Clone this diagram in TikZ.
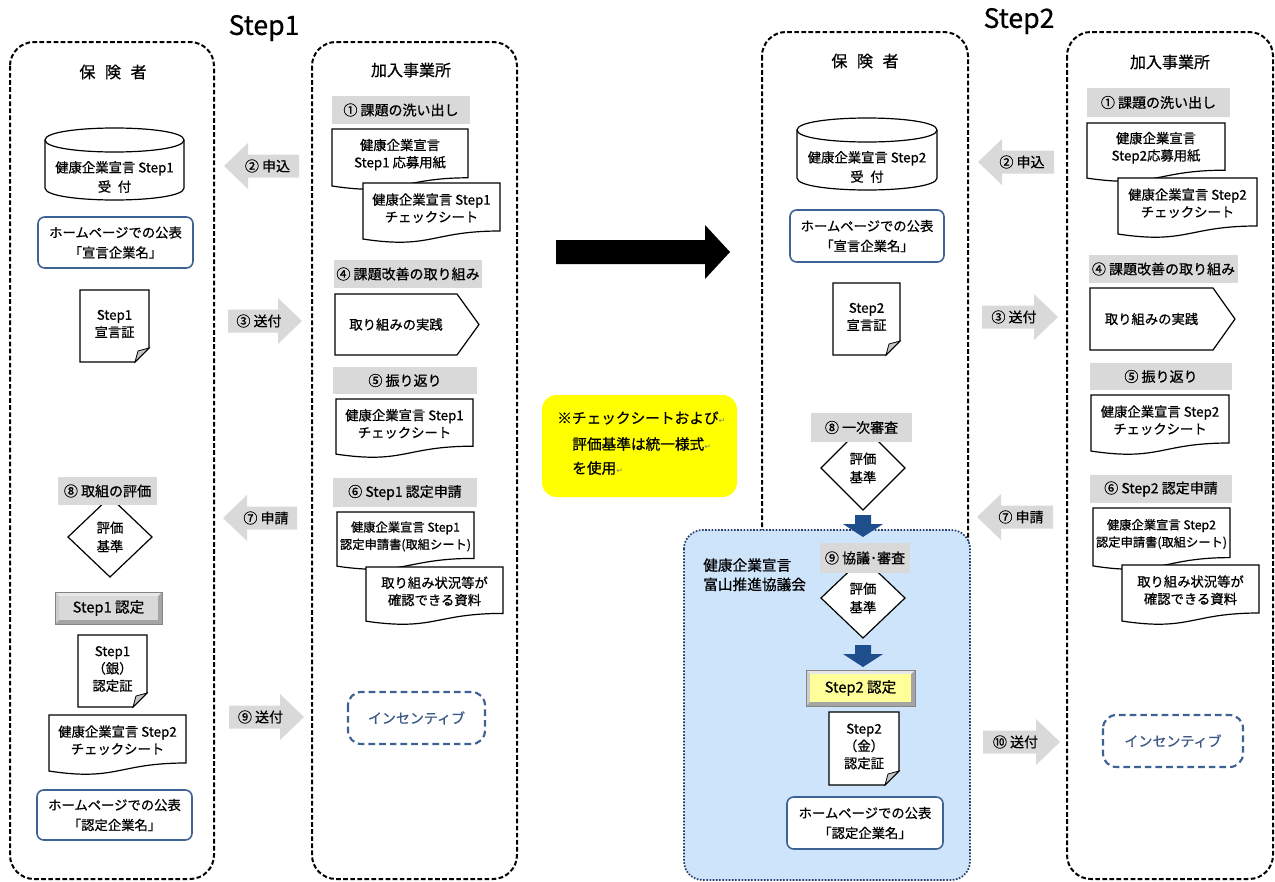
\documentclass[tikz,border=0pt]{standalone}
\usepackage{fontspec}
\setmainfont{Noto Sans CJK JP}[FakeBold=0.7]
\newfontfamily\dejavu{DejaVu Sans}
\definecolor{lgray}{RGB}{217,217,217}
\definecolor{hpblue}{RGB}{62,98,148}
\definecolor{inctext}{RGB}{60,90,135}
\definecolor{arrowblue}{RGB}{31,78,140}
\definecolor{councilfill}{RGB}{206,228,251}
\definecolor{councildraw}{RGB}{35,60,105}
\definecolor{yel}{RGB}{255,255,0}
\definecolor{yel2}{RGB}{255,255,153}
\definecolor{bevdark}{RGB}{165,165,165}
\definecolor{bevlight}{RGB}{232,232,232}
\tikzset{
  lane/.style={draw=black, line width=1.5pt, dash pattern=on 3.5pt off 1.8pt, rounded corners=18pt},
  docline/.style={draw=black, line width=0.9pt},
  txt/.style={align=center, inner sep=0pt, font=\fontsize{10}{13}\selectfont},
  hptxt/.style={align=center, inner sep=0pt, font=\fontsize{10}{15}\selectfont},
  lbltxt/.style={align=center, inner sep=0pt, font=\fontsize{10.5}{13}\selectfont},
  hpbox/.style={draw=hpblue, line width=1.2pt, rounded corners=5pt, fill=white},
  incbox/.style={draw=hpblue, line width=1.6pt, dash pattern=on 5pt off 3pt, rounded corners=10pt},
  councilbox/.style={draw=councildraw, fill=councilfill, line width=1.3pt, dash pattern=on 1.2pt off 1.2pt, rounded corners=14pt},
  titletxt/.style={inner sep=0pt, font=\fontsize{20}{24}\selectfont},
  lanetxt/.style={inner sep=0pt, font=\fontsize{12}{14}\selectfont},
  ytxt/.style={anchor=west, inner sep=0pt, font=\fontsize{11}{13}\selectfont},
}
% wavy-bottom document: [opts] name x1 y1 x2 y2 text
\newcommand\mywdoc[7][]{%
  \draw[docline,fill=white] (#3,#4) -- (#5,#4) -- (#5,{#4+0.80*(#6-#4)})
    .. controls ({(#3+#5)/2},{#4+0.80*(#6-#4)}) and ({(#3+#5)/2},{#4+1.107*(#6-#4)}) .. (#3,{#4+0.934*(#6-#4)}) -- cycle;
  \node[txt,#1] (#2) at ({(#3+#5)/2},{#4+0.42*(#6-#4)}) {#7};}
% folded-corner document: name x1 y1 x2 y2 text
\newcommand\myfdoc[6]{%
  \draw[docline,fill=white] (#2,#3) -- (#4,#3) -- (#4,{#5-14}) -- ({#4-14},#5) -- (#2,#5) -- cycle;
  \filldraw[docline,fill=gray!45,line width=0.6pt] ({#4-14},#5) .. controls ({#4-13},{#5-5}) .. ({#4-11},{#5-11}) .. controls ({#4-5},{#5-13}) .. (#4,{#5-14}) -- cycle;
  \node[txt] (#1) at ({(#2+#4)/2},{(#3+#5)/2-2}) {#6};}
% pentagon
\newcommand\mypent[6]{%
  \draw[docline,fill=white] (#2,#3) -- ({#4-22},#3) -- (#4,{(#3+#5)/2}) -- ({#4-22},#5) -- (#2,#5) -- cycle;
  \node[txt] (#1) at ({(#2+#4-22)/2},{(#3+#5)/2}) {#6};}
% gray label
\newcommand\myglab[6]{%
  \fill[lgray] (#2,#3) rectangle (#4,#5);
  \node[lbltxt] (#1) at ({(#2+#4)/2},{(#3+#5)/2}) {#6};}
% homepage box
\newcommand\myhpb[6]{%
  \draw[hpbox] (#2,#3) rectangle (#4,#5);
  \node[hptxt] (#1) at ({(#2+#4)/2},{(#3+#5)/2}) {#6};}
% diamond
\newcommand\mydia[5]{%
  \draw[docline,fill=white] ({#2-#4},#3) -- (#2,{#3-#5}) -- ({#2+#4},#3) -- (#2,{#3+#5}) -- cycle;
  \node[txt,font=\fontsize{10}{14}\selectfont] (#1) at (#2,#3) {評価\\基準};}
% cylinder
\newcommand\mycyl[6]{%
  \draw[docline,fill=white] (#2,{#3+12}) -- (#2,{#5-12}) .. controls (#2,{#5+4}) and (#4,{#5+4}) .. (#4,{#5-12})
    -- (#4,{#3+12}) .. controls (#4,{#3-4}) and (#2,{#3-4}) .. cycle;
  \draw[docline] (#2,{#3+12}) .. controls (#2,{#3+28}) and (#4,{#3+28}) .. (#4,{#3+12});
  \node[txt,font=\fontsize{10}{14.5}\selectfont] (#1) at ({(#2+#4)/2},{#5-23}) {#6};}
% bevel button
\newcommand\mybev[7]{%
  \fill[bevdark] (#2,#3) rectangle (#4,#5);
  \fill[bevlight] (#2,#3) -- (#4,#3) -- ({#4-4},{#3+4}) -- ({#2+4},{#3+4}) -- cycle;
  \fill[bevlight!60!bevdark] (#2,#3) -- ({#2+4},{#3+4}) -- ({#2+4},{#5-4}) -- (#2,#5) -- cycle;
  \fill[#6] ({#2+4},{#3+4}) rectangle ({#4-4},{#5-4});
  \draw[bevdark!80!black, line width=0.5pt] (#2,#3) rectangle (#4,#5);
  \node[lbltxt,font=\fontsize{11}{13}\selectfont] (#1) at ({(#2+#4)/2},{(#3+#5)/2}) {#7};}
% gray left arrow: name tip right cy text
\newcommand\mylarr[5]{%
  \fill[lgray] (#2,#4) -- ({#2+24},{#4-23}) -- ({#2+24},{#4-11.5}) -- (#3,{#4-11.5}) -- (#3,{#4+11.5}) -- ({#2+24},{#4+11.5}) -- ({#2+24},{#4+23}) -- cycle;
  \node[lbltxt] (#1) at ({(#2+#3)/2+6},#4) {#5};}
% gray right arrow: name left tip cy text
\newcommand\myrarr[5]{%
  \fill[lgray] (#3,#4) -- ({#3-24},{#4-23}) -- ({#3-24},{#4-11.5}) -- (#2,{#4-11.5}) -- (#2,{#4+11.5}) -- ({#3-24},{#4+11.5}) -- ({#3-24},{#4+23}) -- cycle;
  \node[lbltxt] (#1) at ({(#2+#3)/2-6},#4) {#5};}
% blue down arrow: cx ytop ytip
\newcommand\mydarr[3]{%
  \fill[arrowblue] ({#1-8},#2) -- ({#1+8},#2) -- ({#1+8},{#3-13}) -- ({#1+20},{#3-13}) -- (#1,#3) -- ({#1-20},{#3-13}) -- ({#1-8},{#3-13}) -- cycle;}
\newcommand\myret{{\dejavu\fontsize{6}{6}\selectfont\color{gray}↵}}
\begin{document}
\begin{tikzpicture}[x=0.75pt,y=-0.75pt]
\useasboundingbox (0,0) rectangle (1275,882);
\fill[white] (0,0) rectangle (1275,882);

% titles
\node[titletxt] (t1) at (264,28) {Step1};
\node[titletxt] (t2) at (1019,21) {Step2};

% lanes
\draw[lane] (10,42) rectangle (214,879);
\draw[lane] (312,42) rectangle (517,879);
\draw[lane] (762,32) rectangle (968,879);
\draw[lane] (1067,32) rectangle (1273,879);
\node[lanetxt] (s1ins) at (113,72) {保\hspace{0.6em}険\hspace{0.6em}者};
\node[lanetxt] (s1emp) at (411,70) {加入事業所};
\node[lanetxt] (s2ins) at (865,61) {保\hspace{0.6em}険\hspace{0.6em}者};
\node[lanetxt] (s2emp) at (1170,62) {加入事業所};

% ===== Step1 insurer =====
\mycyl{s1cyl}{45}{128}{184}{200}{健康企業宣言 Step1\\受\hspace{0.5em}付}
\myhpb{s1hp1}{38}{217}{193}{268}{ホームページでの公表\\「宣言企業名」}
\myfdoc{s1dec}{80}{290}{149}{362}{Step1\\宣言証}
\mydia{s1dia}{110}{537}{42}{40}
\myglab{s1l8}{58}{477}{157}{505}{⑧ 取組の評価}
\mybev{s1nin}{55}{592}{162}{624}{lgray}{Step1 認定}
\myfdoc{s1cert}{78}{635}{147}{707}{Step1\\（銀）\\認定証}
\mywdoc{s1chk2}{49}{715}{186}{775}{健康企業宣言 Step2\\チェックシート}
\myhpb{s1hp2}{37}{790}{192}{840}{ホームページでの公表\\「認定企業名」}

% ===== Step1 employer =====
\myglab{s1l1}{332}{96}{470}{124}{① 課題の洗い出し}
\mywdoc{s1app}{332}{129}{468}{190}{健康企業宣言\\Step1 応募用紙}
\mywdoc{s1chk}{363}{183}{500}{243}{健康企業宣言 Step1\\チェックシート}
\myglab{s1l4}{334}{260}{482}{288}{④ 課題改善の取り組み}
\mypent{s1prac}{335}{294}{479}{355}{取り組みの実践}
\myglab{s1l5}{333}{367}{477}{394}{⑤ 振り返り}
\mywdoc{s1rev}{336}{399}{473}{458}{健康企業宣言 Step1\\チェックシート}
\myglab{s1l6}{333}{478}{477}{507}{⑥ Step1 認定申請}
\mywdoc[font=\fontsize{9.2}{13}\selectfont]{s1form}{337}{512}{474}{570}{健康企業宣言 Step1\\認定申請書(取組シート)}
\mywdoc{s1mat}{366}{567}{503}{625}{取り組み状況等が\\確認できる資料}
\draw[incbox] (348,692) rectangle (485,744);
\node[txt,text=inctext,font=\fontsize{10.5}{13}\selectfont] (s1inc) at (416.5,718) {インセンティブ};

% ===== Step1 arrows =====
\mylarr{s1a2}{224}{299}{166}{② 申込}
\myrarr{s1a3}{228}{302}{321}{③ 送付}
\mylarr{s1a7}{223}{297}{518}{⑦ 申請}
\myrarr{s1a9}{229}{304}{717}{⑨ 送付}

% ===== center =====
\fill[black] (556,240) -- (705,240) -- (705,225) -- (730,252) -- (705,279) -- (705,264) -- (556,264) -- cycle;
\fill[yel, rounded corners=11pt] (542,395) rectangle (737,497);
\node[ytxt] (yl1) at (557,418) {※チェックシートおよび\myret};
\node[ytxt] (yl2) at (572,444) {評価基準は統一様式\myret};
\node[ytxt] (yl3) at (572,468) {を使用\myret};

% ===== Step2 insurer =====
\draw[councilbox] (684,530) rectangle (970,880);
\mycyl{s2cyl}{797}{118}{937}{190}{健康企業宣言 Step2\\受\hspace{0.5em}付}
\myhpb{s2hp1}{790}{210}{944}{262}{ホームページでの公表\\「宣言企業名」}
\myfdoc{s2dec}{833}{283}{900}{355}{Step2\\宣言証}
\mydia{s2dia1}{863}{468}{42}{42}
\myglab{s2l8}{811}{413}{912}{442}{⑧ 一次審査}
\mydarr{863}{515}{537}
\node[anchor=north west, align=left, inner sep=0pt, font=\fontsize{11}{14.5}\selectfont] (cnc) at (703,558) {健康企業宣言\\富山推進協議会};
\mydia{s2dia2}{863}{598}{42}{40}
\myglab{s2l9}{820}{543}{910}{573}{⑨ 協議･審査}
\mydarr{863}{645}{667}
\mybev{s2nin}{806}{670}{915}{706}{yel2}{Step2 認定}
\myfdoc{s2cert}{829}{712}{899}{785}{Step2\\（金）\\認定証}
\myhpb{s2hp2}{787}{797}{943}{849}{ホームページでの公表\\「認定企業名」}

% ===== Step2 employer =====
\myglab{s2l1}{1087}{88}{1230}{117}{① 課題の洗い出し}
\mywdoc{s2app}{1087}{123}{1225}{182}{健康企業宣言\\Step2応募用紙}
\mywdoc{s2chk}{1118}{178}{1257}{238}{健康企業宣言 Step2\\チェックシート}
\myglab{s2l4}{1089}{255}{1238}{283}{④ 課題改善の取り組み}
\mypent{s2prac}{1090}{288}{1235}{350}{取り組みの実践}
\myglab{s2l5}{1090}{363}{1232}{390}{⑤ 振り返り}
\mywdoc{s2rev}{1091}{395}{1229}{455}{健康企業宣言 Step2\\チェックシート}
\myglab{s2l6}{1090}{475}{1232}{503}{⑥ Step2 認定申請}
\mywdoc[font=\fontsize{9.2}{13}\selectfont]{s2form}{1093}{508}{1230}{570}{健康企業宣言 Step2\\認定申請書(取組シート)}
\mywdoc{s2mat}{1122}{565}{1259}{625}{取り組み状況等が\\確認できる資料}
\draw[incbox] (1103,715) rectangle (1243,767);
\node[txt,text=inctext,font=\fontsize{10.5}{13}\selectfont] (s2inc) at (1173,741) {インセンティブ};

% ===== Step2 arrows =====
\mylarr{s2a2}{978}{1054}{162}{② 申込}
\myrarr{s2a3}{982}{1058}{317}{③ 送付}
\mylarr{s2a7}{977}{1053}{517}{⑦ 申請}
\myrarr{s2a10}{983}{1060}{742}{⑩ 送付}
\end{tikzpicture}
\end{document}
